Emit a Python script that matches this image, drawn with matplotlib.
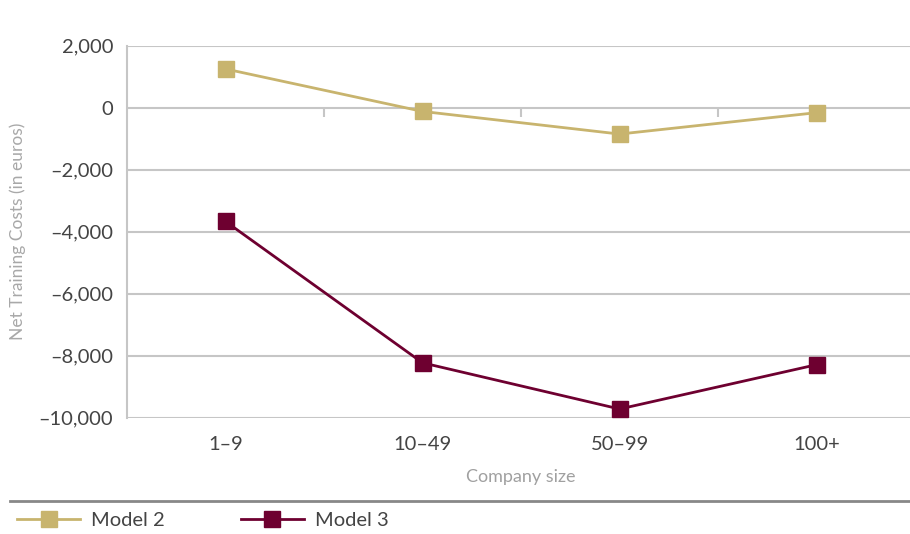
import numpy as np
import matplotlib.pyplot as plt
from matplotlib.lines import Line2D
from matplotlib.ticker import FuncFormatter

plt.rcParams['font.family'] = ['Lato', 'DejaVu Sans']

# data
company_sizes = ['1\u20139', '10\u201349', '50\u201399', '100+']
model2 = [1250, -120, -850, -160]
model3 = [-3670, -8230, -9720, -8290]
y_ticks = [2000, 0, -2000, -4000, -6000, -8000, -10000]

gold = '#C8B46E'
maroon = '#6E0030'
grid_col = '#C6C6C6'
text_col = '#444444'


def fmt(v, pos):
    s = f"{abs(int(v)):,}"
    return ('\u2013' + s) if v < 0 else s


fig = plt.figure(figsize=(9.1, 5.34), dpi=100)
ax = fig.add_axes([0.1396, 0.2178, 0.866, 0.6966])

x = np.arange(len(company_sizes))
ax.plot(x, model2, color=gold, lw=2, marker='s', ms=12, zorder=3, label='Model 2')
ax.plot(x, model3, color=maroon, lw=2, marker='s', ms=12, zorder=3, label='Model 3')

ax.set_xlim(-0.5, len(company_sizes) - 0.5)
ax.set_ylim(-10000, 2000)
ax.set_yticks(y_ticks)
ax.yaxis.set_major_formatter(FuncFormatter(fmt))
ax.set_xticks(x)
ax.set_xticklabels(company_sizes)

ax.grid(axis='y', color=grid_col, lw=1.5)
ax.set_axisbelow(True)
for side in ['top', 'right', 'bottom']:
    ax.spines[side].set_visible(False)
ax.spines['left'].set_color(grid_col)
ax.spines['left'].set_linewidth(1.5)

# small category separators on the zero line
bounds = np.arange(len(company_sizes) - 1) + 0.5
ax.vlines(bounds, -290, 0, color=grid_col, lw=1.5, zorder=1)

ax.tick_params(axis='both', length=0, labelsize=14.5, labelcolor=text_col)
ax.tick_params(axis='y', pad=10)
ax.tick_params(axis='x', pad=13)

ax.set_ylabel('Net Training Costs (in euros)', fontsize=12.5, color='#A8A8A8',
              labelpad=9)
ax.set_xlabel('Company size', fontsize=13, color='#A0A0A0', labelpad=12)

fig.add_artist(Line2D([0.011, 1.0], [1 - 501 / 534] * 2, color='#888888', lw=2,
                      transform=fig.transFigure))

fig.legend(loc='center left', bbox_to_anchor=(0.008, 0.026), ncol=2, frameon=False,
           fontsize=14.5, handlelength=3.1, handletextpad=0.55, columnspacing=3.8,
           borderpad=0, labelcolor=text_col)

fig.savefig('out.png', dpi=100)
